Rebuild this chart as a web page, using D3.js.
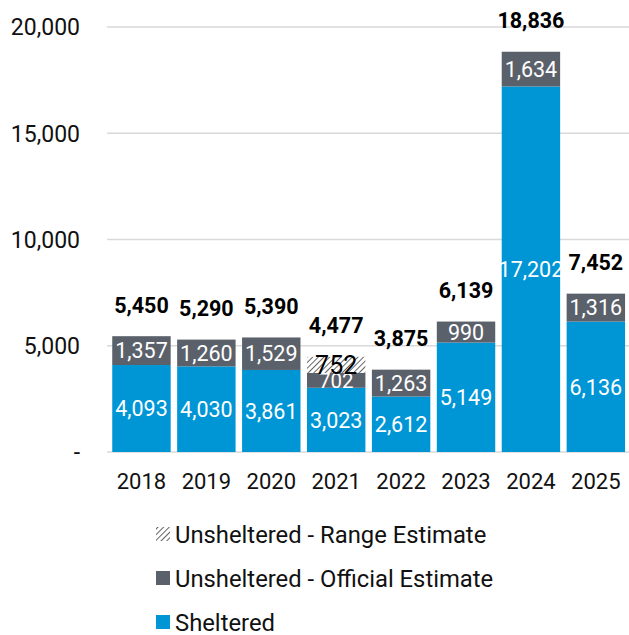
<!DOCTYPE html>
<html>
<head>
<meta charset="utf-8">
<script src="https://cdn.jsdelivr.net/npm/d3@7"></script>
<style>
  html, body { margin: 0; padding: 0; background: #fff; }
  svg text { font-family: Roboto, "Noto Sans", sans-serif; }
</style>
</head>
<body>
<svg id="chart" width="629" height="635"></svg>
<script>
// Point-in-time count by year
const years = ["2018", "2019", "2020", "2021", "2022", "2023", "2024", "2025"];
const sheltered = [4093, 4030, 3861, 3023, 2612, 5149, 17202, 6136];
const unshelteredOfficial = [1357, 1260, 1529, 702, 1263, 990, 1634, 1316];
const unshelteredRange = [0, 0, 0, 752, 0, 0, 0, 0];
const totals = [5450, 5290, 5390, 4477, 3875, 6139, 18836, 7452];
const yTicks = [0, 5000, 10000, 15000, 20000];

const colors = { sheltered: "#0096d6", official: "#5b616b", grid: "#d9d9d9" };

const svg = d3.select("#chart");

const defs = svg.append("defs");
const hatch = defs.append("pattern")
  .attr("id", "hatch")
  .attr("patternUnits", "userSpaceOnUse")
  .attr("width", 4).attr("height", 4)
  .attr("patternTransform", "rotate(45)");
hatch.append("rect").attr("width", 4).attr("height", 4).attr("fill", "#fff");
hatch.append("line").attr("x1", 0).attr("y1", 0).attr("x2", 0).attr("y2", 4)
  .attr("stroke", "#222").attr("stroke-width", 1.4);

const x = d3.scaleBand().domain(years).range([109, 628.3]).paddingInner(0.1).paddingOuter(0.05);
const y = d3.scaleLinear().domain([0, 20000]).range([452, 27]);

// gridlines
svg.append("g").selectAll("line").data(yTicks).join("line")
  .attr("x1", 107).attr("x2", 629)
  .attr("y1", d => y(d)).attr("y2", d => y(d))
  .attr("stroke", colors.grid).attr("stroke-width", 1.3);

// y axis labels
const fmt = d3.format(",");
svg.append("g").selectAll("text").data(yTicks).join("text")
  .attr("x", 80).attr("y", d => y(d)).attr("dy", "0.36em")
  .attr("text-anchor", "end").attr("font-size", 23).attr("fill", "#111")
  .text(d => d === 0 ? "-" : fmt(d));

// stacked segments
const rows = years.map((yr, i) => ({
  year: yr,
  segs: [
    { key: "sheltered", v0: 0, v1: sheltered[i], val: sheltered[i] },
    { key: "official", v0: sheltered[i], v1: sheltered[i] + unshelteredOfficial[i], val: unshelteredOfficial[i] },
    { key: "range", v0: sheltered[i] + unshelteredOfficial[i], v1: sheltered[i] + unshelteredOfficial[i] + unshelteredRange[i], val: unshelteredRange[i] }
  ].filter(s => s.val > 0)
}));

const fillFor = k => k === "sheltered" ? colors.sheltered : k === "official" ? colors.official : "url(#hatch)";

const barG = svg.append("g").selectAll("g").data(rows).join("g")
  .attr("transform", d => `translate(${x(d.year)},0)`);

barG.selectAll("rect").data(d => d.segs).join("rect")
  .attr("x", 0).attr("width", x.bandwidth())
  .attr("y", s => y(s.v1)).attr("height", s => y(s.v0) - y(s.v1))
  .attr("fill", s => fillFor(s.key));

barG.selectAll("text.seg").data(d => d.segs).join("text")
  .attr("class", "seg")
  .attr("x", x.bandwidth() / 2)
  .attr("y", s => (y(s.v0) + y(s.v1)) / 2)
  .attr("dy", "0.36em")
  .attr("text-anchor", "middle")
  .attr("font-size", s => s.key === "range" ? 25 : (y(s.v0) - y(s.v1) < 18 ? 20.5 : 21.5))
  .attr("fill", s => s.key === "range" ? "#000" : "#fff")
  .text(s => fmt(s.val));

// totals
svg.append("g").selectAll("text").data(years).join("text")
  .attr("x", d => x(d) + x.bandwidth() / 2)
  .attr("y", (d, i) => y(totals[i]) - 23.5)
  .attr("text-anchor", "middle").attr("font-size", 21.5).attr("font-weight", "bold")
  .attr("fill", "#000")
  .text((d, i) => fmt(totals[i]));

// x axis labels
svg.append("g").selectAll("text").data(years).join("text")
  .attr("x", d => x(d) + x.bandwidth() / 2).attr("y", 489)
  .attr("text-anchor", "middle").attr("font-size", 22).attr("fill", "#111")
  .text(d => d);

// legend
const legend = [
  { label: "Unsheltered - Range Estimate", fill: "url(#hatch)" },
  { label: "Unsheltered - Official Estimate", fill: colors.official },
  { label: "Sheltered", fill: colors.sheltered }
];
const lg = svg.append("g").selectAll("g").data(legend).join("g")
  .attr("transform", (d, i) => `translate(156,${534 + i * 44})`);
lg.append("rect").attr("x", 0).attr("y", -7).attr("width", 14).attr("height", 14)
  .attr("fill", d => d.fill);
lg.append("text").attr("x", 19).attr("y", 0).attr("dy", "0.36em")
  .attr("font-size", 23.8).attr("fill", "#111").text(d => d.label);
</script>
</body>
</html>
